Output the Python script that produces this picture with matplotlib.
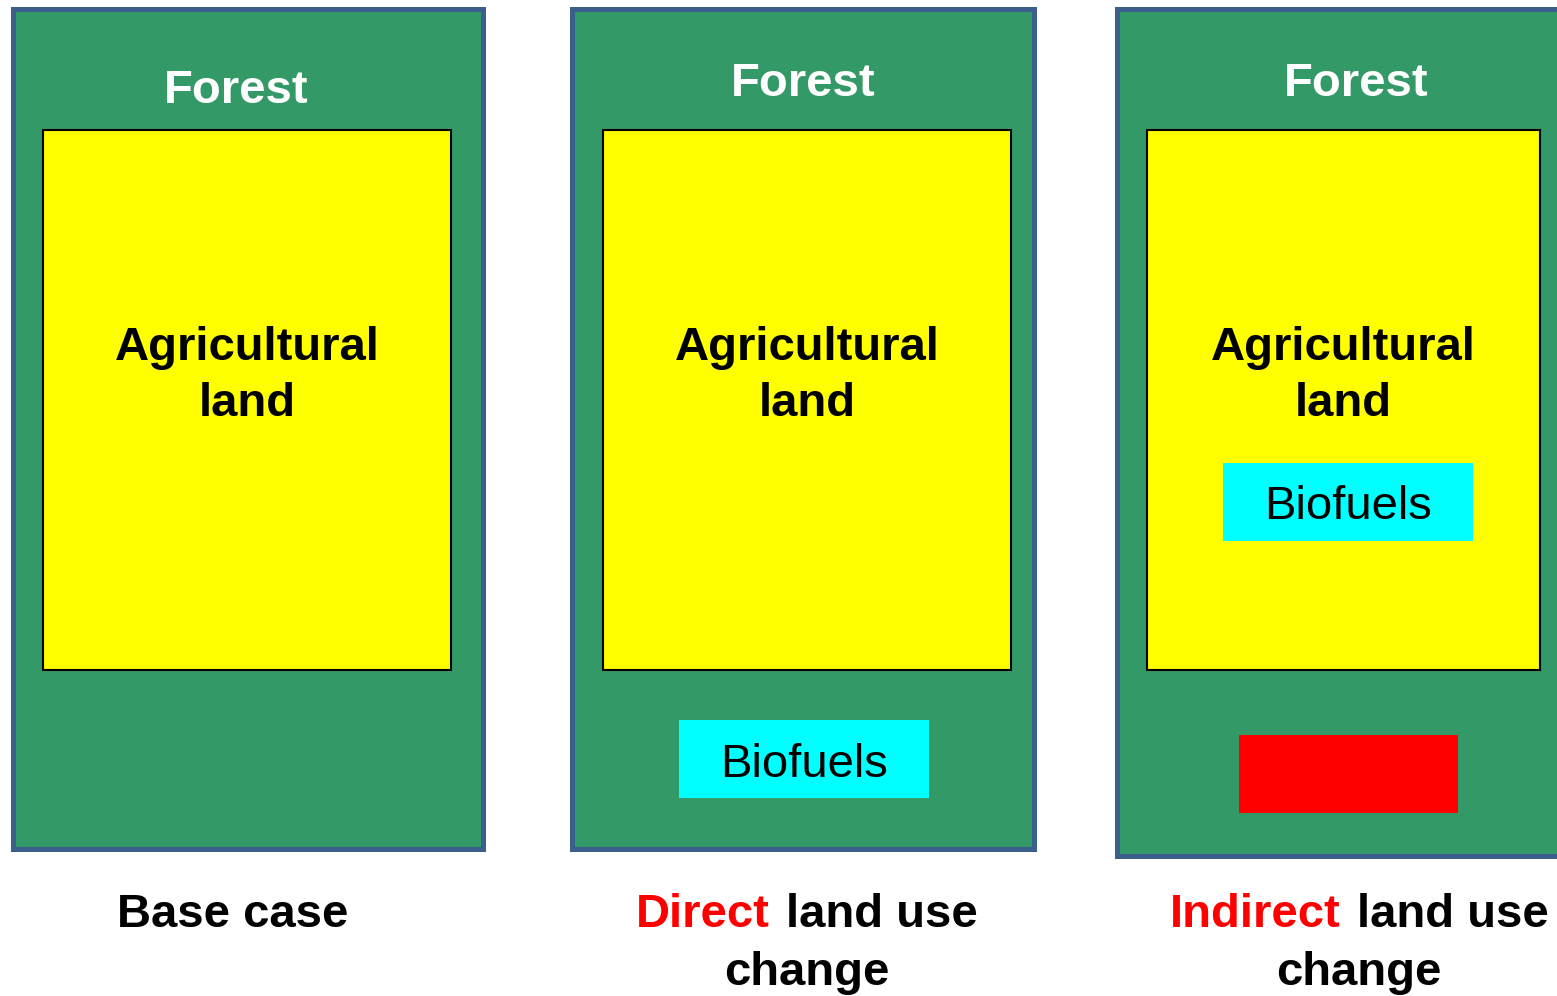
import matplotlib
matplotlib.use("Agg")
import matplotlib.pyplot as plt
from matplotlib.patches import Rectangle

plt.rcParams['font.family'] = ['Liberation Sans', 'DejaVu Sans']

panel_titles = ["Forest", "Forest", "Forest"]
inner_label = "Agricultural\nland"
biofuel_label = "Biofuels"
caption_colored = ["", "Direct", "Indirect"]
caption_rest = ["Base case", "land use", "land use"]
caption_second = ["", "change", "change"]

GREEN = "#339966"
BORDER = "#3B5E8D"
YELLOW = "#FFFF00"
CYAN = "#00FFFF"
RED = "#FF0000"

fig = plt.figure(figsize=(15.57, 9.96), dpi=100)
ax = fig.add_axes([0, 0, 1, 1])
ax.set_xlim(0, 1557)
ax.set_ylim(996, 0)
ax.axis('off')

def rect(x0, y0, x1, y1, fc, ec='none', lw=0, z=1):
    ax.add_patch(Rectangle((x0, y0), x1 - x0, y1 - y0, facecolor=fc,
                           edgecolor=ec, linewidth=lw, zorder=z))

FS = 34
DY = 4
outer = [(13, 9, 483, 849), (572, 9, 1034, 849), (1117, 9, 1562, 856)]
yellow = [(43, 130, 451, 670), (603, 130, 1011, 670), (1147, 130, 1540, 670)]
forest_xy = [(236, 87), (803, 80), (1356, 80)]
agri_x = [247, 807, 1343]

for i in range(3):
    rect(*outer[i], GREEN, BORDER, 3.6, z=1)
    rect(*yellow[i], YELLOW, 'black', 1.5, z=2)
    ax.text(forest_xy[i][0], forest_xy[i][1] + DY, panel_titles[i], color='white',
            fontsize=FS, fontweight='bold', ha='center', va='center', zorder=5)
    ax.text(agri_x[i], 372 + DY, inner_label, color='black', fontsize=FS,
            fontweight='bold', ha='center', va='center', linespacing=1.36, zorder=5)

rect(679, 720, 929, 798, CYAN, z=3)
ax.text(804, 761 + DY, biofuel_label, fontsize=FS, ha='center', va='center', zorder=5)
rect(1223, 463, 1473, 541, CYAN, z=3)
ax.text(1348, 503 + DY, biofuel_label, fontsize=FS, ha='center', va='center', zorder=5)
rect(1239, 735, 1458, 813, RED, z=3)

ax.text(233, 911 + DY, caption_rest[0], fontsize=FS, fontweight='bold',
        ha='center', va='center')
split = [None, (770, 786), (1341, 1357)]
for i in (1, 2):
    xr, xl = split[i]
    ax.text(xr, 911 + DY, caption_colored[i], fontsize=FS, fontweight='bold',
            color=RED, ha='right', va='center')
    ax.text(xl, 911 + DY, caption_rest[i], fontsize=FS, fontweight='bold',
            color='black', ha='left', va='center')
ax.text(807, 969 + DY, caption_second[1], fontsize=FS, fontweight='bold',
        ha='center', va='center')
ax.text(1359, 969 + DY, caption_second[2], fontsize=FS, fontweight='bold',
        ha='center', va='center')

fig.savefig("out.png", dpi=100, facecolor='white')
